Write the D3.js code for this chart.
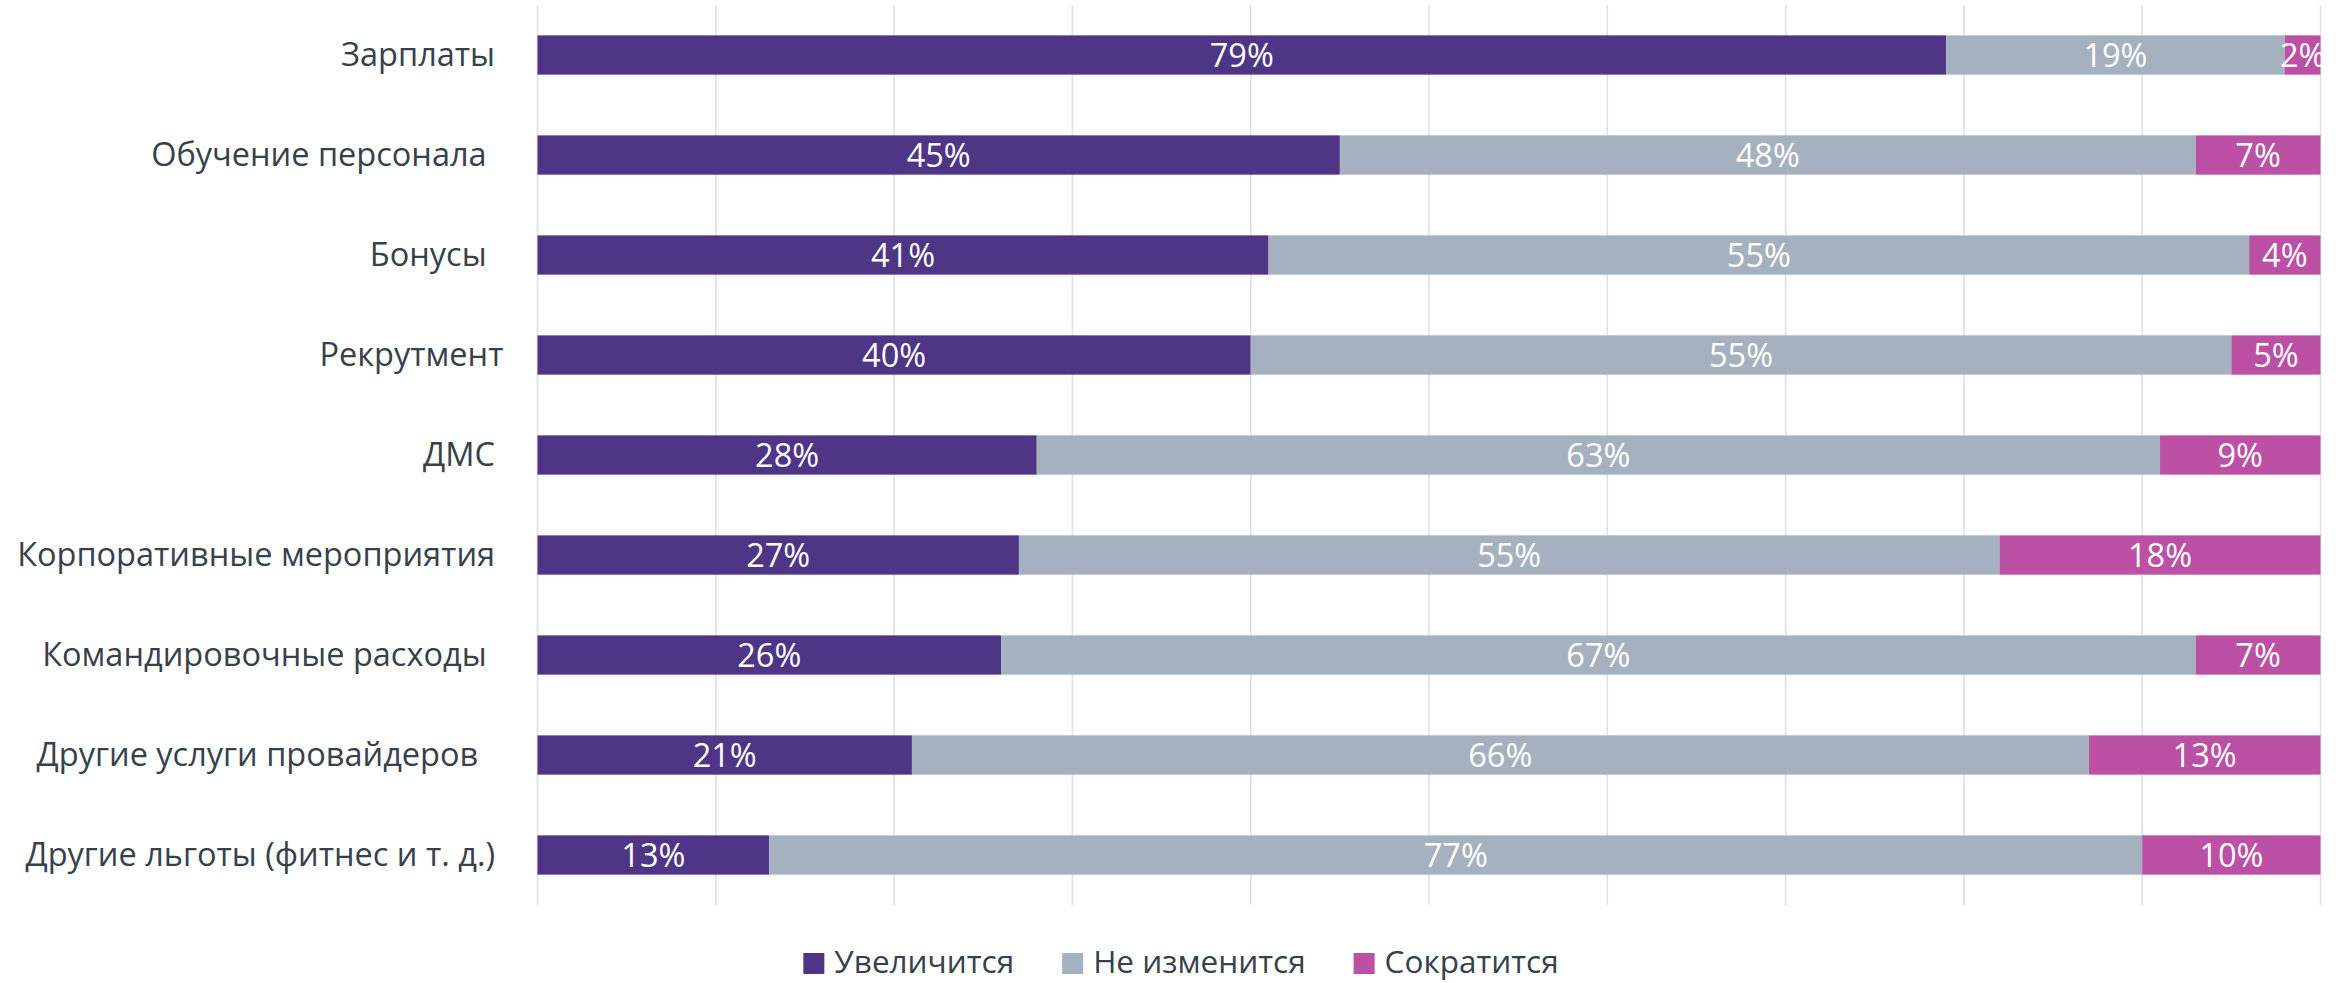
<!DOCTYPE html>
<html>
<head>
<meta charset="utf-8">
<script src="https://cdn.jsdelivr.net/npm/d3@7/dist/d3.min.js"></script>
<style>
  html, body { margin: 0; padding: 0; background: #ffffff; }
  svg { display: block; }
  text { font-family: "Open Sans", "Noto Sans", sans-serif; }
</style>
</head>
<body>
<svg id="chart" width="2336" height="983"></svg>
<script>
// Budget expectations by item, percent of respondents
const categories = [
  "Зарплаты ",
  "Обучение персонала  ",
  "Бонусы  ",
  "Рекрутмент",
  "ДМС ",
  "Корпоративные мероприятия ",
  "Командировочные расходы  ",
  "Другие услуги провайдеров   ",
  "Другие льготы (фитнес и т. д.) "
];
const increase  = [79, 45, 41, 40, 28, 27, 26, 21, 13];
const unchanged = [19, 48, 55, 55, 63, 55, 67, 66, 77];
const decrease  = [ 2,  7,  4,  5,  9, 18,  7, 13, 10];
const seriesNames = ["Увеличится", "Не изменится", "Сократится"];
const seriesColors = ["#4E3586", "#A5B1BE", "#BB50A5"];
const xDomain = [0, 100];

const svg = d3.select("#chart");
const W = 2336, H = 983;
const plot = { left: 537.5, right: 2320.5, top: 5, bottom: 905 };

const rows = categories.map((c, i) => ({
  category: c,
  [seriesNames[0]]: increase[i],
  [seriesNames[1]]: unchanged[i],
  [seriesNames[2]]: decrease[i]
}));

const x = d3.scaleLinear().domain(xDomain).range([plot.left, plot.right]);
const y = d3.scaleBand()
  .domain(categories)
  .range([plot.top, plot.bottom])
  .paddingInner(0.607)
  .paddingOuter(0.3035);
const color = d3.scaleOrdinal().domain(seriesNames).range(seriesColors);

// vertical gridlines
svg.append("g")
  .attr("class", "grid")
  .selectAll("line")
  .data(x.ticks(10))
  .join("line")
  .attr("x1", d => x(d)).attr("x2", d => x(d))
  .attr("y1", plot.top).attr("y2", plot.bottom)
  .attr("stroke", "#DDE2E8")
  .attr("stroke-width", 1.6);

// category axis labels
const yAxis = d3.axisLeft(y).tickSize(0).tickPadding(0);
const yG = svg.append("g")
  .attr("transform", `translate(${plot.left - 34},0)`)
  .call(yAxis);
yG.select(".domain").remove();
yG.selectAll("text")
  .attr("font-size", 32.5)
  .attr("fill", "#36414C")
  .attr("dy", "0.35em")
  .style("white-space", "pre")
  .style("font-family", "'Open Sans', 'Noto Sans', sans-serif");

// stacked bars
const stacked = d3.stack().keys(seriesNames)(rows);

const layers = svg.append("g").attr("class", "bars")
  .selectAll("g")
  .data(stacked)
  .join("g")
  .attr("fill", d => color(d.key));

layers.selectAll("rect")
  .data(d => d)
  .join("rect")
  .attr("x", d => x(d[0]))
  .attr("width", d => x(d[1]) - x(d[0]))
  .attr("y", d => y(d.data.category))
  .attr("height", y.bandwidth());

// value labels inside each segment
svg.append("defs").append("clipPath").attr("id", "plotClip")
  .append("rect")
  .attr("x", plot.left).attr("y", 0)
  .attr("width", plot.right - plot.left + 1).attr("height", H);

const labelG = svg.append("g").attr("clip-path", "url(#plotClip)");
stacked.forEach(layer => {
  labelG.append("g")
    .selectAll("text")
    .data(layer)
    .join("text")
    .attr("x", d => (x(d[0]) + x(d[1])) / 2)
    .attr("y", d => y(d.data.category) + y.bandwidth() / 2)
    .attr("dy", "0.36em")
    .attr("text-anchor", "middle")
    .attr("font-size", 32.5)
    .attr("fill", "#ffffff")
    .text(d => `${d[1] - d[0]}%`);
});

// legend
const legend = svg.append("g").attr("class", "legend");
const sw = 21, textGap = 10, itemGap = 48, legendCenter = 1181, legendBase = 973;
const items = legend.selectAll("g")
  .data(seriesNames)
  .join("g");
items.append("rect")
  .attr("width", sw).attr("height", sw)
  .attr("y", legendBase - sw + 1)
  .attr("fill", d => color(d));
items.append("text")
  .attr("x", sw + textGap)
  .attr("y", legendBase)
  .attr("font-size", 31.5)
  .attr("fill", "#36414C")
  .text(d => d);

const widths = [];
items.each(function () {
  widths.push(sw + textGap + d3.select(this).select("text").node().getComputedTextLength());
});
const total = d3.sum(widths) + itemGap * (widths.length - 1);
let cursor = legendCenter - total / 2;
items.each(function (d, i) {
  d3.select(this).attr("transform", `translate(${cursor},0)`);
  cursor += widths[i] + itemGap;
});
</script>
</body>
</html>
